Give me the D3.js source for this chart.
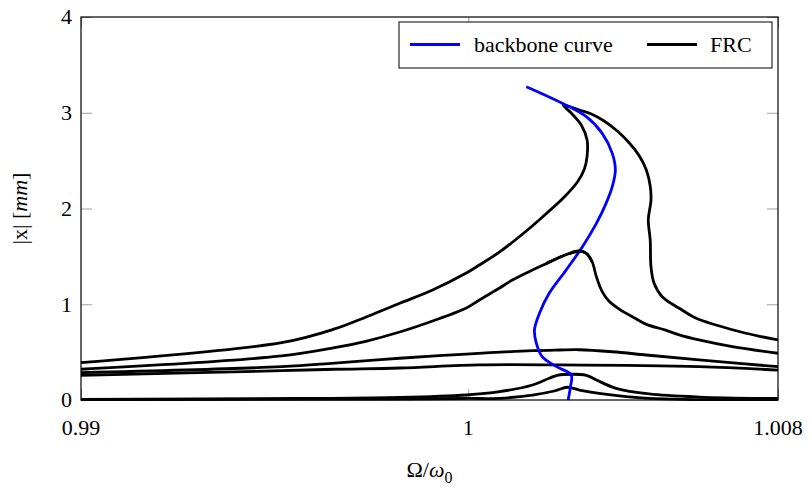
<!DOCTYPE html>
<html>
<head>
<meta charset="utf-8">
<script src="https://cdn.jsdelivr.net/npm/d3@7"></script>
</head>
<body style="margin:0;background:#fff">
<div id="fig"></div>
<script>
// frequency response curves, [Omega/omega0, |x| in mm]
var frcBig = [[0.99,0.390],[0.99518,0.598],[0.99655,0.742],[0.99738,0.870],[0.99823,1.010],[0.99908,1.149],
  [0.99995,1.326],[1.00029,1.410],[1.00081,1.546],[1.00150,1.765],[1.00202,1.948],[1.00248,2.120],
  [1.00282,2.277],[1.00300,2.413],[1.00307,2.548],[1.00307,2.715],[1.00292,2.872],[1.00266,2.997],
  [1.00245,3.081],[1.00287,3.029],[1.00318,2.987],[1.00351,2.914],[1.00385,2.809],[1.00416,2.684],
  [1.00442,2.548],[1.00460,2.402],[1.00470,2.235],[1.00472,2.089],[1.00465,1.880],[1.00470,1.671],
  [1.00472,1.392],[1.00480,1.219],[1.00501,1.079],[1.00545,0.958],[1.00589,0.853],[1.00640,0.783],
  [1.00717,0.697],[1.008,0.627]];

var frcMid = [[0.99,0.321],[0.99518,0.460],[0.99655,0.546],[0.99738,0.616],[0.99823,0.710],[0.99908,0.825],
  [0.99995,0.961],[1.00029,1.044],[1.00081,1.170],[1.00114,1.253],[1.00158,1.342],[1.00202,1.426],
  [1.00235,1.488],[1.00261,1.530],[1.00287,1.556],[1.00305,1.532],[1.00320,1.444],[1.00331,1.288],
  [1.00346,1.131],[1.00362,1.04],[1.00390,0.95],[1.00424,0.87],[1.00460,0.79],[1.00510,0.73],
  [1.00545,0.68],[1.00596,0.627],[1.00682,0.557],[1.008,0.488]];

var frcLow = [[0.99,0.285],[0.99518,0.348],[0.99655,0.385],[0.99823,0.436],[0.99995,0.480],[1.00166,0.515],
  [1.00235,0.522],[1.00287,0.525],[1.00372,0.504],[1.00460,0.470],[1.00596,0.418],[1.008,0.348]];

var frcFlat = [[0.99,0.258],[0.99518,0.306],[0.99655,0.321],[0.99823,0.334],[1.00029,0.366],[1.00235,0.366],
  [1.00596,0.348],[1.008,0.313]];

var frcSmall = [[0.99,0.005],[0.99565,0.016],[0.99823,0.026],[0.99995,0.052],[1.00081,0.087],[1.00166,0.157],
  [1.00209,0.227],[1.00230,0.258],[1.00305,0.258],[1.00331,0.209],[1.00382,0.122],[1.00467,0.063],
  [1.00596,0.031],[1.008,0.016]];

var frcTiny = [[0.99,0.003],[0.99823,0.010],[0.99995,0.016],[1.00081,0.018],[1.00166,0.052],[1.00222,0.094],
  [1.00256,0.133],[1.00287,0.104],[1.00338,0.070],[1.00467,0.018],[1.008,0.005]];

var backbone = [[1.00150,3.272],[1.00243,3.099],[1.00305,2.959],[1.00346,2.785],[1.00372,2.576],[1.00380,2.402],
  [1.00372,2.228],[1.00356,2.054],[1.00331,1.845],[1.00295,1.601],[1.00253,1.358],[1.00209,1.114],
  [1.00184,0.905],[1.00171,0.731],[1.00176,0.592],[1.00191,0.452],[1.00228,0.348],[1.00266,0.261],
  [1.00264,0.139],[1.00258,0]];

var xTicks = [0.99, 1, 1.008];
var xTickLabels = ["0.99", "1", "1.008"];
var yTicks = [0, 1, 2, 3, 4];

var W = 812, H = 497;
var margin = {left: 81, top: 17, right: 34, bottom: 97};
var pw = W - margin.left - margin.right, ph = H - margin.top - margin.bottom;
var serif = "Liberation Serif";

var svg = d3.select("#fig").append("svg")
  .attr("width", W)
  .attr("height", H);

var x = d3.scaleLinear().domain([0.99, 1.008]).range([0, pw]);
var y = d3.scaleLinear().domain([0, 4]).range([ph, 0]);

var g = svg.append("g")
  .attr("transform", "translate(" + margin.left + "," + margin.top + ")");

g.append("clipPath").attr("id", "clip")
  .append("rect").attr("x", 0).attr("y", -2).attr("width", pw).attr("height", ph + 4);

// ticks, pointing inward on all four sides
function tickLines(axis, sel) {
  sel.call(axis).select(".domain").remove();
  sel.selectAll("line").attr("stroke", "#a0a0a0").attr("stroke-width", 1);
  sel.selectAll("text").remove();
}
tickLines(d3.axisBottom(x).tickValues(xTicks).tickSize(-11),
  g.append("g").attr("transform", "translate(0," + ph + ")"));
tickLines(d3.axisTop(x).tickValues(xTicks).tickSize(-11), g.append("g"));
tickLines(d3.axisLeft(y).tickValues(yTicks).tickSize(-11), g.append("g"));
tickLines(d3.axisRight(y).tickValues(yTicks).tickSize(-11),
  g.append("g").attr("transform", "translate(" + pw + ",0)"));

// tick labels
g.selectAll(".xlab").data(xTicks).enter().append("text")
  .attr("x", d => x(d))
  .attr("y", ph + 35)
  .attr("text-anchor", "middle")
  .attr("font-family", serif)
  .attr("font-size", 22)
  .text((d, i) => xTickLabels[i]);

g.selectAll(".ylab").data(yTicks).enter().append("text")
  .attr("x", -9)
  .attr("y", d => y(d))
  .attr("dy", "0.34em")
  .attr("text-anchor", "end")
  .attr("font-family", serif)
  .attr("font-size", 22)
  .text(d => d);

var line = d3.line()
  .x(d => x(d[0]))
  .y(d => y(d[1]))
  .curve(d3.curveCatmullRom.alpha(0.5));

var curves = g.append("g").attr("clip-path", "url(#clip)");
[frcTiny, frcSmall, frcFlat, frcLow, frcMid, frcBig].forEach(function(c) {
  curves.append("path")
    .datum(c)
    .attr("d", line)
    .attr("fill", "none")
    .attr("stroke", "#000")
    .attr("stroke-width", 2.8)
    .attr("stroke-linejoin", "round");
});

curves.append("path")
  .datum(backbone)
  .attr("d", line)
  .attr("fill", "none")
  .attr("stroke", "#0000ff")
  .attr("stroke-width", 2.8);

// the black curve sits over the blue one near its peak in the original
curves.append("path")
  .datum(frcMid.slice(11, 17))
  .attr("d", line)
  .attr("fill", "none")
  .attr("stroke", "#000")
  .attr("stroke-width", 2.8);

// frame
g.append("rect")
  .attr("width", pw)
  .attr("height", ph)
  .attr("fill", "none")
  .attr("stroke", "#000")
  .attr("stroke-width", 1.2);

// legend
var lg = svg.append("g").attr("transform", "translate(399,22)");
lg.append("rect")
  .attr("width", 373).attr("height", 46)
  .attr("fill", "#fff").attr("stroke", "#000").attr("stroke-width", 1);
var legendItems = [
  {name: "backbone curve", color: "#0000ff", x0: 11, tx: 75},
  {name: "FRC", color: "#000", x0: 248, tx: 311}
];
legendItems.forEach(function(it) {
  lg.append("line")
    .attr("x1", it.x0).attr("x2", it.x0 + 50)
    .attr("y1", 22.5).attr("y2", 22.5)
    .attr("stroke", it.color).attr("stroke-width", 2.8);
  lg.append("text")
    .attr("x", it.tx).attr("y", 30)
    .attr("font-family", serif)
    .attr("font-size", 22)
    .text(it.name);
});

// axis labels
svg.append("text")
  .attr("x", margin.left + pw / 2)
  .attr("y", 477)
  .attr("text-anchor", "middle")
  .attr("font-family", serif)
  .attr("font-size", 22)
  .html("Ω/<tspan font-style='italic'>ω</tspan><tspan dy='6' font-size='16'>0</tspan>");

svg.append("text")
  .attr("transform", "translate(27," + (margin.top + ph / 2) + ") rotate(-90)")
  .attr("text-anchor", "middle")
  .attr("font-family", serif)
  .attr("font-size", 22)
  .html("|x| [<tspan font-style='italic'>mm</tspan>]");
</script>
</body>
</html>
